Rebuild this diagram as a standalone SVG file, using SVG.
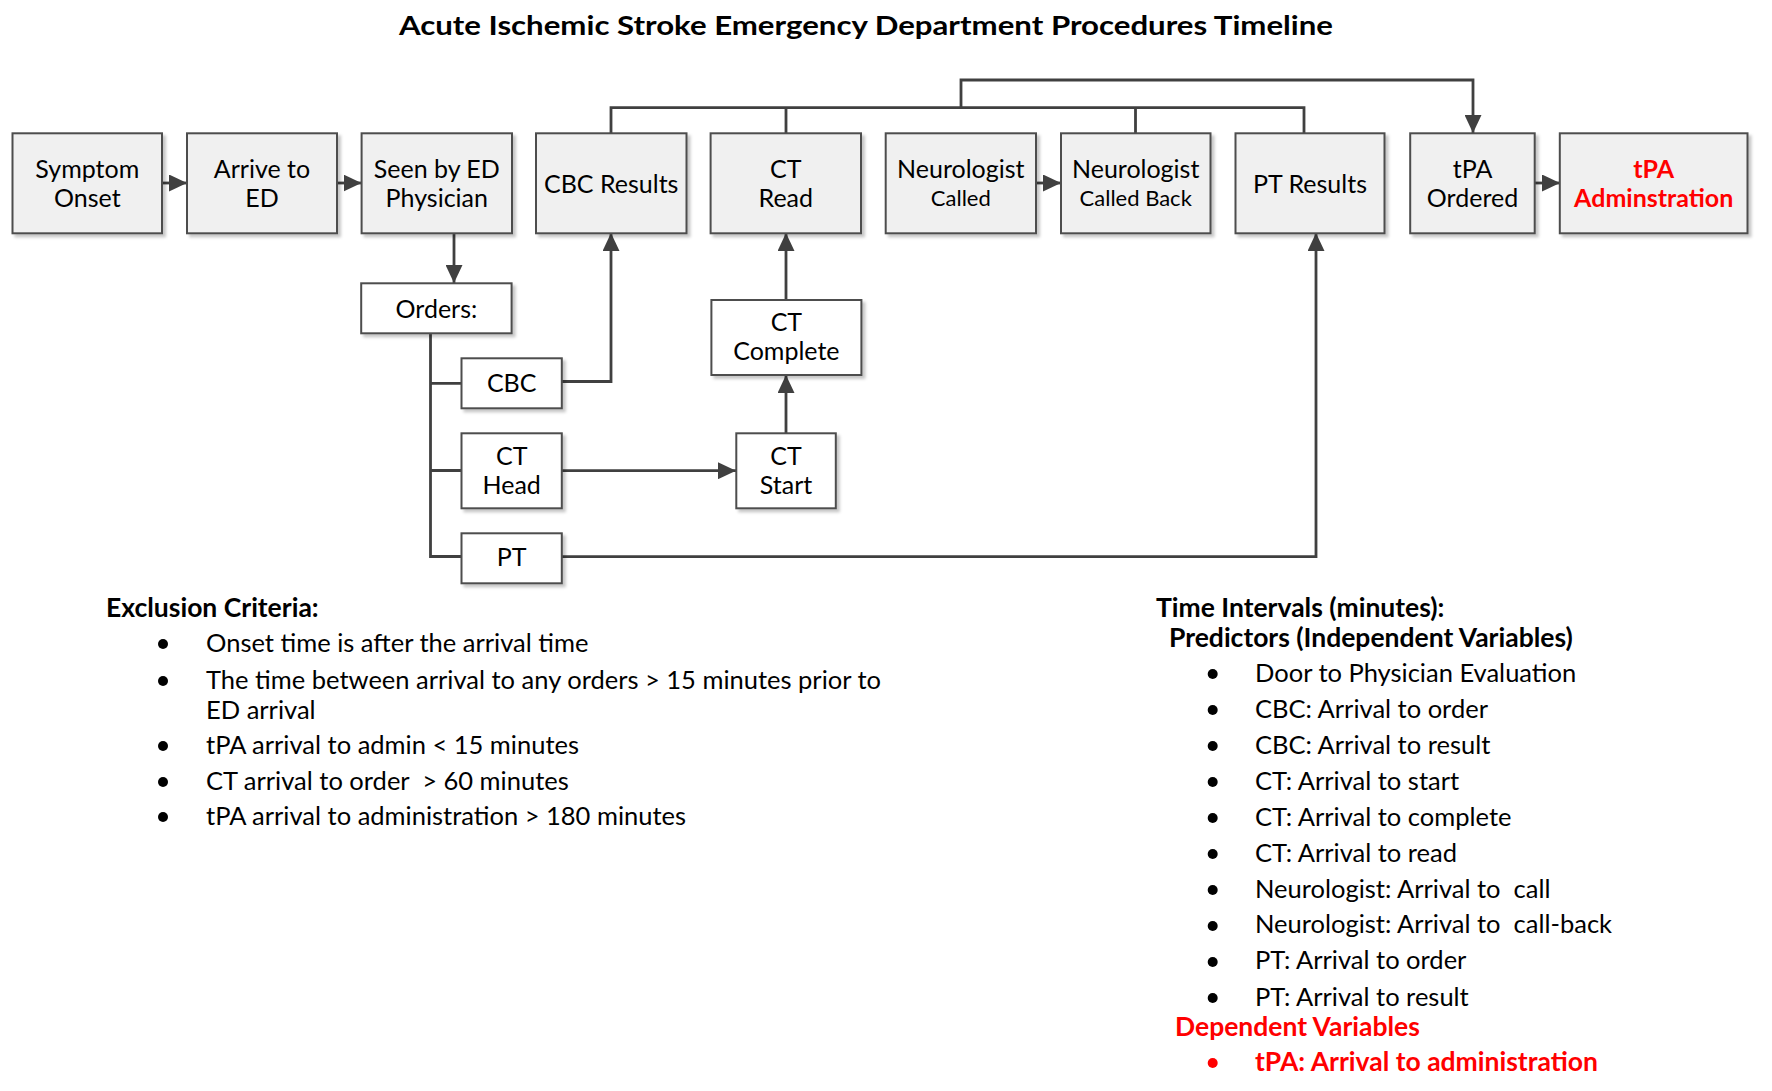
<svg xmlns="http://www.w3.org/2000/svg" width="1772" height="1091" viewBox="0 0 1772 1091">
<defs>
<filter id="sh" x="-10%" y="-10%" width="130%" height="130%">
<feDropShadow dx="3" dy="3" stdDeviation="1.5" flood-color="#000" flood-opacity="0.22"/>
</filter>
<marker id="ah" markerUnits="userSpaceOnUse" markerWidth="18" markerHeight="17" refX="18" refY="8.5" orient="auto">
<path d="M0,0 L18,8.5 L0,17 z" fill="#404040"/>
</marker>
</defs>
<style>
.t{font-family:Lato,"Liberation Sans",sans-serif;font-size:25px;fill:#000;text-anchor:middle}
.s{font-size:22px}
.l{font-family:Lato,"Liberation Sans",sans-serif;font-size:25.5px;fill:#000;white-space:pre}
.b{font-weight:bold}
.h{font-size:26.5px}
.red{fill:#ff0000;font-weight:bold}
.bx{fill:#f0f0f0;stroke:#4d4d4d;stroke-width:2;filter:url(#sh)}
.wb{fill:#fff;stroke:#4d4d4d;stroke-width:2;filter:url(#sh)}
.c{fill:none;stroke:#404040;stroke-width:2.8}
.ca{fill:none;stroke:#404040;stroke-width:2.8;marker-end:url(#ah)}
.dot{fill:#000}
</style>
<rect width="1772" height="1091" fill="#fff"/>
<text x="866" y="35" class="t b" style="font-size:26.5px" textLength="934" lengthAdjust="spacingAndGlyphs">Acute Ischemic Stroke Emergency Department Procedures Timeline</text>

<g id="connectors">
<path class="ca" d="M162,183 H187"/>
<path class="ca" d="M337,183 H361.5"/>
<path class="ca" d="M454,233 V283"/>
<path class="c" d="M430.5,333 V556.5 H461.5 M430.5,383.3 H461.5 M430.5,470.5 H461.5"/>
<path class="ca" d="M562,381.5 H611 V233"/>
<path class="ca" d="M562,470.7 H736"/>
<path class="ca" d="M786,433.3 V375"/>
<path class="ca" d="M786,300 V233"/>
<path class="ca" d="M562,556.7 H1316 V233"/>
<path class="c" d="M611,133 V107.7 H1304 V133 M786,107.7 V133 M1135.5,107.7 V133"/>
<path class="ca" d="M961,107.7 V80 H1473 V133"/>
<path class="ca" d="M1036,183 H1061"/>
<path class="ca" d="M1535,183 H1560"/>
</g>

<g id="symptom-onset"><rect class="bx" x="12.5" y="133.3" width="149.5" height="100"/><text class="t" x="87.3" y="178">Symptom</text><text class="t" x="87.3" y="207">Onset</text></g>
<g id="arrive-ed"><rect class="bx" x="187" y="133.3" width="150" height="100"/><text class="t" x="262" y="178">Arrive to</text><text class="t" x="262" y="207">ED</text></g>
<g id="seen-ed"><rect class="bx" x="361.6" y="133.3" width="150.4" height="100"/><text class="t" x="436.8" y="178">Seen by ED</text><text class="t" x="436.8" y="207">Physician</text></g>
<g id="cbc-results"><rect class="bx" x="536" y="133.3" width="150.5" height="100"/><text class="t" x="611.2" y="193">CBC Results</text></g>
<g id="ct-read"><rect class="bx" x="710.6" y="133.3" width="150.4" height="100"/><text class="t" x="785.8" y="178">CT</text><text class="t" x="785.8" y="207">Read</text></g>
<g id="neuro-called"><rect class="bx" x="885.7" y="133.3" width="150.3" height="100"/><text class="t" x="960.8" y="178">Neurologist</text><text class="t s" x="960.8" y="206">Called</text></g>
<g id="neuro-called-back"><rect class="bx" x="1061" y="133.3" width="149.5" height="100"/><text class="t" x="1135.7" y="178">Neurologist</text><text class="t s" x="1135.7" y="206">Called Back</text></g>
<g id="pt-results"><rect class="bx" x="1235.5" y="133.3" width="149" height="100"/><text class="t" x="1310" y="193">PT Results</text></g>
<g id="tpa-ordered"><rect class="bx" x="1410.2" y="133.3" width="124.5" height="100"/><text class="t" x="1472.5" y="178">tPA</text><text class="t" x="1472.5" y="207">Ordered</text></g>
<g id="tpa-admin"><rect class="bx" x="1559.8" y="133.3" width="187.7" height="100"/><text class="t red" x="1653.7" y="178">tPA</text><text class="t red" x="1653.7" y="207">Adminstration</text></g>

<g id="orders"><rect class="wb" x="361.2" y="283.3" width="150.4" height="50"/><text class="t" x="436.4" y="318">Orders:</text></g>
<g id="cbc"><rect class="wb" x="461.5" y="358.3" width="100.3" height="50"/><text class="t" x="511.7" y="392">CBC</text></g>
<g id="ct-head"><rect class="wb" x="461.5" y="433.3" width="100.3" height="75"/><text class="t" x="511.7" y="465">CT</text><text class="t" x="511.7" y="494">Head</text></g>
<g id="pt"><rect class="wb" x="461.5" y="533.3" width="100.3" height="50"/><text class="t" x="511.7" y="566">PT</text></g>
<g id="ct-start"><rect class="wb" x="736.3" y="433.3" width="99.5" height="75"/><text class="t" x="786" y="465">CT</text><text class="t" x="786" y="494">Start</text></g>
<g id="ct-complete"><rect class="wb" x="711.4" y="300" width="150" height="75"/><text class="t" x="786.4" y="331">CT</text><text class="t" x="786.4" y="360">Complete</text></g>

<g id="exclusion">
<text class="l b h" x="106" y="617">Exclusion Criteria:</text>
<circle class="dot" cx="163" cy="644" r="5"/><text class="l" x="206" y="652">Onset time is after the arrival time</text>
<circle class="dot" cx="163" cy="681" r="5"/><text class="l" x="206" y="688.5">The time between arrival to any orders &gt; 15 minutes prior to</text>
<text class="l" x="206" y="718.5">ED arrival</text>
<circle class="dot" cx="163" cy="746" r="5"/><text class="l" x="206" y="753.5">tPA arrival to admin &lt; 15 minutes</text>
<circle class="dot" cx="163" cy="782" r="5"/><text class="l" x="206" y="789.5">CT arrival to order  &gt; 60 minutes</text>
<circle class="dot" cx="163" cy="817" r="5"/><text class="l" x="206" y="825">tPA arrival to administration &gt; 180 minutes</text>
</g>

<g id="intervals">
<text class="l b h" x="1156" y="617">Time Intervals (minutes):</text>
<text class="l b h" x="1169" y="647">Predictors (Independent Variables)</text>
<circle class="dot" cx="1212.7" cy="674" r="5"/><text class="l" x="1255" y="682">Door to Physician Evaluation</text>
<circle class="dot" cx="1212.7" cy="710" r="5"/><text class="l" x="1255" y="717.5">CBC: Arrival to order</text>
<circle class="dot" cx="1212.7" cy="746" r="5"/><text class="l" x="1255" y="753.5">CBC: Arrival to result</text>
<circle class="dot" cx="1212.7" cy="782" r="5"/><text class="l" x="1255" y="789.5">CT: Arrival to start</text>
<circle class="dot" cx="1212.7" cy="818" r="5"/><text class="l" x="1255" y="825.7">CT: Arrival to complete</text>
<circle class="dot" cx="1212.7" cy="854" r="5"/><text class="l" x="1255" y="861.7">CT: Arrival to read</text>
<circle class="dot" cx="1212.7" cy="890" r="5"/><text class="l" x="1255" y="897.7">Neurologist: Arrival to  call</text>
<circle class="dot" cx="1212.7" cy="926" r="5"/><text class="l" x="1255" y="933.3">Neurologist: Arrival to  call-back</text>
<circle class="dot" cx="1212.7" cy="962" r="5"/><text class="l" x="1255" y="969.3">PT: Arrival to order</text>
<circle class="dot" cx="1212.7" cy="998" r="5"/><text class="l" x="1255" y="1006">PT: Arrival to result</text>
<text class="l red h" x="1175" y="1036">Dependent Variables</text>
<circle cx="1212.7" cy="1063" r="5" fill="#ff0000"/><text class="l red h" x="1255" y="1071">tPA: Arrival to administration</text>
</g>
</svg>
